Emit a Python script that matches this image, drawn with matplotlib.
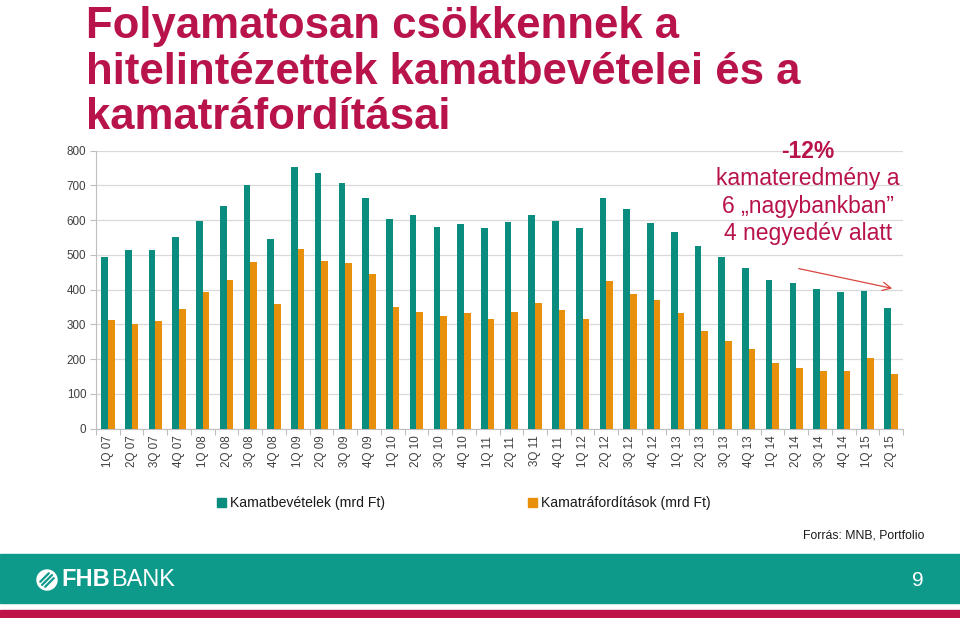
import numpy as np
import matplotlib
matplotlib.use("Agg")
import matplotlib.pyplot as plt
from matplotlib import font_manager
from matplotlib.patches import Rectangle, Circle

# adatok (mrd Ft), leolvasva az ábráról
negyedevek = ["1Q 07", "2Q 07", "3Q 07", "4Q 07", "1Q 08", "2Q 08", "3Q 08", "4Q 08",
              "1Q 09", "2Q 09", "3Q 09", "4Q 09", "1Q 10", "2Q 10", "3Q 10", "4Q 10",
              "1Q 11", "2Q 11", "3Q 11", "4Q 11", "1Q 12", "2Q 12", "3Q 12", "4Q 12",
              "1Q 13", "2Q 13", "3Q 13", "4Q 13", "1Q 14", "2Q 14", "3Q 14", "4Q 14",
              "1Q 15", "2Q 15"]
kamatbevetelek = [495, 514, 514, 553, 599, 642, 701, 545,
                  752, 735, 707, 664, 603, 614, 581, 588,
                  577, 594, 615, 597, 578, 664, 631, 591,
                  567, 526, 493, 463, 427, 419, 402, 394,
                  397, 346]
kamatraforditasok = [313, 300, 310, 344, 392, 428, 479, 360,
                     517, 482, 478, 446, 351, 337, 325, 334,
                     316, 335, 361, 341, 316, 425, 388, 370,
                     332, 282, 252, 230, 190, 176, 166, 166,
                     204, 157]
y_ticks = [0, 100, 200, 300, 400, 500, 600, 700, 800]

TEAL = "#0A8C7E"
NARANCS = "#E8900C"
BORDO = "#B8134A"
SAV = "#0E9A8B"

fontok = {f.name for f in font_manager.fontManager.ttflist}
if "Liberation Sans Narrow" in fontok:
    keskeny, k_szorzo = "Liberation Sans Narrow", 1.0
else:
    keskeny, k_szorzo = "Liberation Sans", 0.84
plt.rcParams["font.family"] = ["Liberation Sans", "DejaVu Sans"]

W, H = 960, 618
def fx(px):
    return px / W
def fy(py):
    return 1 - py / H

fig = plt.figure(figsize=(9.6, 6.18), dpi=100)

# cím
cim = ["Folyamatosan csökkennek a", "hitelintézettek kamatbevételei és a", "kamatráfordításai"]
for i, sor in enumerate(cim):
    fig.text(fx(86), fy(38 + i * 45.5), sor, color=BORDO, fontsize=31.5,
             fontweight="bold", va="baseline", ha="left")

# diagram
ax = fig.add_axes([fx(96), fy(428.7), fx(903) - fx(96), (428.7 - 150.7) / H])
x = np.arange(len(negyedevek))
sz = 0.28
ax.bar(x - sz / 2, kamatbevetelek, sz, color=TEAL, zorder=3)
ax.bar(x + sz / 2, kamatraforditasok, sz, color=NARANCS, zorder=3)

ax.set_xlim(-0.5, len(negyedevek) - 0.5)
ax.set_ylim(0, 800)
ax.set_yticks(y_ticks)
ax.yaxis.grid(True, color="#D9D9D9", lw=0.9, zorder=0)
ax.set_xticks(x)
ax.set_xticklabels(negyedevek, rotation=90, fontsize=10 * k_szorzo, family=keskeny, color="#404040")
ax.set_xticks(np.arange(-0.5, len(negyedevek), 1), minor=True)
ax.tick_params(axis="x", which="major", length=0, pad=5)
ax.tick_params(axis="x", which="minor", length=4, color="#BFBFBF", width=0.8)
ax.tick_params(axis="y", length=4, color="#BFBFBF", width=0.8, pad=3, labelcolor="#404040")
for t in ax.get_yticklabels():
    t.set_family(keskeny)
    t.set_fontsize(10 * k_szorzo)
for s in ["top", "right"]:
    ax.spines[s].set_visible(False)
for s in ["left", "bottom"]:
    ax.spines[s].set_color("#BFBFBF")
    ax.spines[s].set_linewidth(0.8)

# megjegyzés
fig.text(fx(808), fy(151), "-12%", color=BORDO, fontsize=16.5, fontweight="bold",
         ha="center", va="center")
for i, sor in enumerate(["kamateredmény a", "6 \u201enagybankban\u201d", "4 negyedév alatt"]):
    fig.text(fx(808), fy(179 + i * 27.3), sor, color=BORDO, fontsize=16.5,
             ha="center", va="center")
fig.add_artist(matplotlib.patches.FancyArrowPatch(
    (fx(796), fy(268)), (fx(895), fy(289)), transform=fig.transFigure,
    arrowstyle="->,head_length=6,head_width=3", color="#D9473F", lw=0.9))

# jelmagyarázat
for bx, szin, cimke in [(217, TEAL, "Kamatbevételek (mrd Ft)"),
                        (528, NARANCS, "Kamatráfordítások (mrd Ft)")]:
    fig.patches.append(Rectangle((fx(bx), fy(507)), fx(9), 9 / H, color=szin,
                                 transform=fig.transFigure, figure=fig))
    fig.text(fx(bx + 13), fy(502.5), cimke, fontsize=12 * k_szorzo, family=keskeny,
             color="#1A1A1A", ha="left", va="center")

fig.text(fx(924), fy(535), "Forrás: MNB, Portfolio", fontsize=10.5 * k_szorzo,
         family=keskeny, color="#1A1A1A", ha="right", va="center")

# lábléc
fig.patches.append(Rectangle((0, fy(603)), 1, 49 / H, color=SAV,
                             transform=fig.transFigure, figure=fig))
fig.patches.append(Rectangle((0, 0), 1, 8 / H, color="#BE1248",
                             transform=fig.transFigure, figure=fig))
cx, cy = 47, 580
fig.patches.append(Circle((cx / 100, (H - cy) / 100), 0.10, color="white",
                          transform=fig.dpi_scale_trans, figure=fig))
# csíkok a logóban (45°-os párhuzamos vonalak)
for d in [-3.5, 0, 3.5]:
    hossz = np.sqrt(max(49 - d * d, 0)) / np.sqrt(2)
    x0, y0 = cx + d / np.sqrt(2), cy + d / np.sqrt(2)
    fig.add_artist(plt.Line2D([fx(x0 - hossz), fx(x0 + hossz)],
                              [fy(y0 + hossz), fy(y0 - hossz)],
                              color=SAV, lw=1.6, solid_capstyle="round",
                              transform=fig.transFigure))
fig.text(fx(61), fy(580), "FHB", color="white", fontsize=17, fontweight="bold",
         ha="left", va="center")
fig.text(fx(111), fy(580), "BANK", color="white", fontsize=17,
         ha="left", va="center")
fig.text(fx(918), fy(580), "9", color="white", fontsize=15, family=keskeny,
         ha="center", va="center")

fig.savefig("out.png", dpi=100, facecolor="white")
